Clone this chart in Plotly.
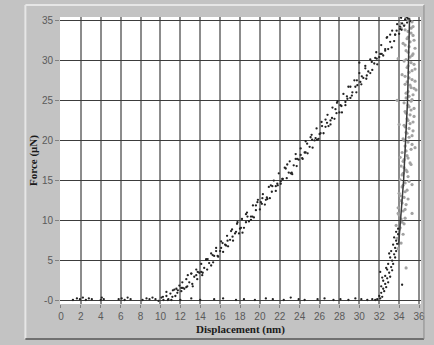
import plotly.graph_objects as go

# ---------------- data ----------------
# loading branch (black points)
load_x = [9.5, 9.8, 10.1, 10.3, 10.6, 10.8, 11.0, 11.2, 11.4, 11.5, 11.7, 11.9, 12.1, 12.2, 12.4, 12.6, 12.7, 12.9,
          13.1, 13.2, 13.4, 13.6, 13.7, 13.9, 14.1, 14.2, 14.4, 14.6, 14.7, 14.9, 15.1, 15.3, 15.4, 15.6, 15.8, 16.0,
          16.1, 16.3, 16.5, 16.7, 16.8, 17.0, 17.2, 17.3, 17.5, 17.7, 17.9, 18.0, 18.2, 18.4, 18.6, 18.7, 18.9, 19.1,
          19.3, 19.4, 19.6, 19.8, 20.0, 20.2, 20.3, 20.5, 20.7, 20.9, 21.0, 21.2, 21.4, 21.6, 21.8, 21.9, 22.1, 22.3,
          22.5, 22.7, 22.9, 23.0, 23.2, 23.4, 23.6, 23.7, 23.9, 24.1, 24.3, 24.5, 24.6, 24.8, 25.0, 25.2, 25.3, 25.5,
          25.7, 25.9, 26.0, 26.2, 26.4, 26.6, 26.8, 26.9, 27.1, 27.3, 27.5, 27.7, 27.8, 28.0, 28.2, 28.4, 28.6, 28.8,
          28.9, 29.1, 29.3, 29.5, 29.7, 29.8, 30.0, 30.2, 30.4, 30.6, 30.7, 30.9, 31.1, 31.3, 31.5, 31.7, 31.8, 32.0,
          32.2, 32.4, 32.6, 32.8, 32.9, 33.1, 33.3, 33.5, 33.6, 33.8, 34.0, 34.1, 34.2, 34.3, 34.4, 34.5, 34.6, 34.7,
          34.8, 34.9, 35.0, 35.1, 34.5, 34.8, 30.0]
load_y = [0.2, 0.0, 0.4, 0.1, 0.6, 0.2, 0.9, 0.5, 1.4, 0.6, 1.0, 1.9, 1.2, 2.3, 1.5, 2.7, 1.8, 2.3,
          3.4, 2.1, 3.0, 3.9, 2.7, 3.5, 4.6, 3.2, 4.1, 5.2, 3.9, 4.7, 5.9, 4.8, 5.6, 6.6, 5.5, 6.2,
          7.4, 6.1, 7.0, 8.1, 6.8, 7.6, 8.9, 7.5, 8.4, 9.6, 8.4, 9.0, 10.2, 9.1, 9.8, 11.0, 9.9, 10.5,
          11.9, 10.4, 11.3, 12.6, 11.4, 12.1, 13.3, 12.0, 12.9, 14.2, 12.8, 13.6, 15.0, 13.7, 14.4, 15.9, 14.6, 15.2,
          16.6, 15.3, 16.0, 17.4, 16.0, 16.9, 18.3, 16.8, 17.6, 19.0, 17.7, 18.5, 19.9, 18.4, 19.2, 20.7, 19.1, 20.0,
          21.5, 20.2, 20.8, 22.3, 20.9, 21.7, 23.2, 21.8, 22.5, 24.1, 22.7, 23.4, 24.9, 23.5, 24.3, 25.8, 24.4, 25.2,
          26.7, 25.3, 26.0, 27.5, 26.0, 26.9, 28.4, 27.0, 27.8, 29.3, 27.7, 28.6, 30.1, 28.8, 29.6, 31.0, 29.5, 30.4,
          31.9, 30.6, 31.4, 32.9, 31.4, 32.3, 33.7, 32.4, 33.2, 34.5, 33.3, 34.2, 35.3, 34.6, 35.6, 34.3, 35.1, 35.5,
          34.7, 35.2, 35.6, 34.9, 35.6, 35.4, 29.7]

load2_x = [10.25, 10.75, 11.25, 11.75, 12.25, 12.75, 13.25, 13.75, 14.25, 14.75, 15.25, 15.75, 16.25, 16.75,
           17.25, 17.75, 18.25, 18.75, 19.25, 19.75, 20.25, 20.75, 21.25, 21.75, 22.25, 22.75, 23.25, 23.75,
           24.25, 24.75, 25.25, 25.75, 26.25, 26.75, 27.25, 27.75, 28.25, 28.75, 29.25, 29.75, 30.25, 30.75,
           31.25, 31.75, 32.25, 32.75, 33.25, 33.75, 34.25,
           10.6, 11.1, 11.6, 12.1, 12.6, 13.1, 13.6, 14.1, 14.6, 15.1, 15.6, 16.1, 16.6, 17.1, 17.6, 18.1,
           18.6, 19.1, 19.6, 20.1, 20.6, 21.1, 21.6, 22.1, 22.6, 23.1, 23.6, 24.1, 24.6, 25.1, 25.6, 26.1,
           26.6, 27.1, 27.6, 28.1, 28.6, 29.1, 29.6, 30.1, 30.6, 31.1, 31.6, 32.1, 32.6, 33.1, 33.6, 34.1]
load2_y = [0.5, 0.1, 1.3, 1.3, 1.6, 3.2, 1.8, 3.6, 3.5, 5.2, 5.7, 5.6, 7.2, 7.5,
           8.0, 9.8, 8.5, 10.5, 10.5, 12.3, 12.8, 12.7, 14.3, 14.6, 15.2, 17.0, 15.8, 17.7,
           17.8, 19.6, 20.1, 20.1, 21.8, 22.2, 22.8, 24.7, 23.5, 25.5, 25.6, 27.5, 28.0, 28.1,
           29.8, 30.2, 30.8, 32.8, 31.6, 33.7, 33.8,
           1.1, 0.1, 1.5, 1.6, 1.7, 3.4, 3.2, 3.6, 5.1, 4.4, 6.2, 6.6, 6.9, 8.7, 8.6, 9.1,
           10.8, 10.1, 11.9, 12.3, 12.6, 14.4, 14.3, 14.9, 16.5, 15.9, 17.7, 18.2, 18.5, 20.4, 20.3, 20.9,
           22.6, 22.0, 23.9, 24.4, 24.8, 26.7, 26.7, 27.3, 29.0, 28.4, 30.3, 30.8, 31.2, 33.2, 33.2, 33.9]

# baseline points near zero force (black)
base_x = [1.2, 1.6, 1.9, 2.2, 2.5, 2.8, 3.1, 4.0, 4.1, 4.3, 5.8, 6.1, 6.4, 6.7, 7.0, 8.2, 8.6, 8.9, 9.2, 12.0,
          13.1, 14.0, 15.4, 16.3, 17.6, 18.4, 19.5, 20.6, 21.3, 22.4, 23.1, 23.9, 24.5, 25.8, 26.5, 27.4, 28.1,
          28.9, 29.6, 30.2, 30.8, 31.3]
base_y = [0.1, 0.3, 0.2, 0.4, 0.1, 0.3, 0.2, 0.1, 0.4, 0.2, 0.2, 0.3, 0.1, 0.4, 0.2, 0.1, 0.3, 0.2, 0.4, 0.1,
          0.3, 0.1, 0.2, 0.3, 0.1, 0.2, 0.1, 0.3, 0.2, 0.1, 0.4, 0.2, 0.1, 0.2, 0.3, 0.1, 0.2, 0.1, 0.3, 0.2,
          0.1, 0.2]

# lower unloading points (black)
unl_lo_x = [31.8, 32.0, 32.1, 32.2, 32.3, 32.4, 32.2, 32.5, 32.6, 32.4, 32.7, 32.8, 32.6, 32.9, 33.0, 32.8,
            33.1, 33.2, 32.9, 33.3, 33.3, 33.1, 33.4, 33.5, 33.2, 33.6, 33.6, 33.4, 33.7, 33.7, 33.5, 33.8,
            33.9, 33.7, 33.0, 32.7, 32.3, 34.3, 33.9, 31.6, 32.1]
unl_lo_y = [0.2, 0.6, 0.3, 1.0, 0.5, 1.5, 1.8, 1.2, 2.1, 2.5, 1.7, 2.8, 3.1, 2.3, 3.5, 3.9,
            3.0, 4.2, 4.6, 3.8, 5.0, 5.4, 4.6, 5.8, 6.2, 5.4, 6.6, 7.0, 6.2, 7.5, 7.9, 7.1,
            8.3, 8.6, 5.9, 4.1, 2.9, 2.0, 9.0, 0.1, 3.6]

# upper unloading points (grey)
unl_hi_x = [33.9, 34.2, 33.8, 34.4, 34.0, 33.7, 34.3, 34.6, 34.0,
            34.4, 33.9, 34.7, 34.2, 34.5, 34.0, 34.8, 34.3, 34.6, 34.1,
            34.9, 34.4, 34.7, 34.2, 35.1, 34.5, 34.8, 34.3, 35.2, 34.6, 34.9, 34.4,
            35.3, 34.7, 35.0, 34.5, 35.4, 34.8, 35.1, 34.6, 35.5, 34.9, 35.2, 34.7,
            35.4, 34.9, 35.2, 34.6, 35.6, 35.0, 34.3, 35.3, 34.8, 35.5, 34.5, 35.1,
            35.4, 34.7, 35.0, 34.4, 35.5, 34.9, 35.2, 34.6, 35.4, 34.1, 35.0, 34.7,
            34.0, 35.7, 33.9, 35.6, 34.1, 35.3, 33.8, 34.7, 35.3, 34.2,
            34.1, 34.5, 34.2, 33.9, 34.6, 34.3, 34.9, 34.1, 34.6, 34.4, 35.0, 34.3, 34.8, 34.5,
            35.2, 34.4, 34.9, 34.7, 35.3, 34.5, 35.0, 34.8, 35.4, 34.6, 35.1, 34.9, 35.5, 34.7,
            35.2, 35.0, 34.5, 35.3, 35.0, 34.7, 35.5, 35.1, 34.8, 35.3, 34.6, 35.0, 35.6, 34.9,
            35.2, 34.7, 35.3, 34.9, 35.6, 34.6, 35.1, 34.8, 35.4, 34.9, 35.2, 34.5, 35.3, 34.9]
unl_hi_y = [6.5, 7.2, 7.8, 8.3, 8.9, 9.4, 9.8, 10.3, 10.7,
            11.2, 11.6, 12.0, 12.5, 12.9, 13.4, 13.8, 14.2, 14.7, 15.1,
            15.5, 15.9, 16.3, 16.8, 17.2, 17.6, 18.1, 18.5, 18.9, 19.3, 19.8, 20.2,
            20.6, 21.0, 21.5, 21.9, 22.3, 22.7, 23.2, 23.6, 24.0, 24.4, 24.9, 25.3,
            25.7, 26.1, 26.6, 27.0, 27.4, 27.8, 28.2, 28.7, 29.1, 29.5, 29.9, 30.4,
            30.8, 31.2, 31.7, 32.1, 32.5, 32.9, 33.4, 33.8, 34.2, 34.6, 35.0, 35.3,
            22.0, 26.3, 30.2, 19.1, 17.9, 14.5, 25.0, 4.1, 10.9, 34.0,
            9.1, 9.6, 10.2, 10.9, 11.4, 12.2, 12.7, 13.1, 13.6, 14.4, 14.9, 15.7, 16.1, 16.6,
            17.0, 17.4, 17.8, 18.7, 19.5, 20.0, 20.4, 20.9, 21.2, 21.7, 22.1, 22.5, 23.0, 23.4,
            23.8, 24.2, 24.7, 25.1, 25.5, 25.9, 26.5, 26.9, 27.3, 27.6, 28.0, 28.5, 28.9, 29.3,
            29.7, 30.1, 30.6, 31.0, 31.5, 31.9, 32.3, 32.7, 33.1, 33.6, 34.0, 34.4, 34.8, 35.1]

# fitted unloading line
fit_x = [35.05, 34.85, 34.45, 34.2, 33.95]
fit_y = [35.3, 25.0, 15.0, 11.0, 7.0]

x_ticks = [0, 2, 4, 6, 8, 10, 12, 14, 16, 18, 20, 22, 24, 26, 28, 30, 32, 34, 36]
y_ticks = [0, 5, 10, 15, 20, 25, 30, 35]
y_tick_text = ["-0", "5", "10", "15", "20", "25", "30", "35"]

# ---------------- figure ----------------
fig = go.Figure()
fig.add_trace(go.Scatter(x=unl_hi_x, y=unl_hi_y, mode="markers",
                         marker=dict(size=3.2, color="#a2a2a2"), showlegend=False))
fig.add_trace(go.Scatter(x=base_x + load_x + load2_x + unl_lo_x, y=base_y + load_y + load2_y + unl_lo_y,
                         mode="markers", marker=dict(size=2.3, color="#222222"), showlegend=False))
fig.add_trace(go.Scatter(x=fit_x, y=fit_y, mode="lines",
                         line=dict(color="#3a3a3a", width=1.5), showlegend=False))

L, R, T, B = 60, 9, 17, 41
W, H = 434, 345
pw, ph = W - L - R, H - T - B


def px(xp):
    return (xp - L) / pw


def py(yp):
    return (H - B - yp) / ph


shapes = [
    dict(type="line", xref="paper", yref="paper", x0=px(25), x1=px(25), y0=py(5), y1=py(339),
         line=dict(color="#e6e6e6", width=2)),
    dict(type="line", xref="paper", yref="paper", x0=px(25), x1=px(428), y0=py(5), y1=py(5),
         line=dict(color="#e6e6e6", width=2)),
    dict(type="line", xref="paper", yref="paper", x0=px(25), x1=px(428), y0=py(339), y1=py(339),
         line=dict(color="#707070", width=2)),
    dict(type="line", xref="paper", yref="paper", x0=px(428), x1=px(428), y0=py(5), y1=py(339),
         line=dict(color="#8a8a8a", width=1)),
]

fig.update_layout(
    width=W, height=H,
    margin=dict(l=L, r=R, t=T, b=B),
    paper_bgcolor="#c3c3c3",
    plot_bgcolor="#ffffff",
    shapes=shapes,
    xaxis=dict(range=[-0.1, 36.2], tickvals=x_ticks, showgrid=True, gridcolor="#8c8c8c", gridwidth=2,
               zeroline=False, ticks="outside", ticklen=3, tickcolor="#808080",
               tickfont=dict(family="Liberation Sans", size=10, color="#5a5a5a"),
               title=dict(text="Displacement (nm)", standoff=4,
                          font=dict(family="Liberation Serif", size=11, color="#1a1a1a", weight="bold"))),
    yaxis=dict(range=[-0.4, 35.4], tickvals=y_ticks, ticktext=y_tick_text, showgrid=True,
               gridcolor="#3c3c3c", gridwidth=1, zeroline=False, ticks="outside", ticklen=4,
               tickcolor="#808080",
               tickfont=dict(family="Liberation Sans", size=10, color="#5a5a5a"),
               title=dict(text="Force (μN)", standoff=2,
                          font=dict(family="Liberation Serif", size=11, color="#1a1a1a", weight="bold"))),
)

fig.write_html("out.html")
